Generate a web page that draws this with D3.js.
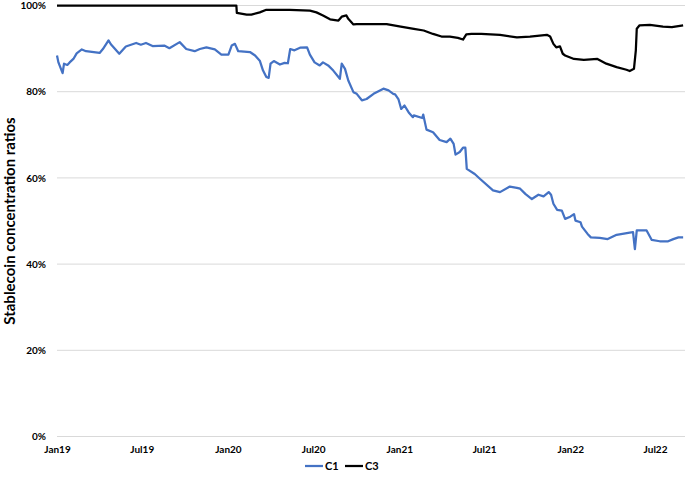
<!DOCTYPE html>
<html>
<head>
<meta charset="utf-8">
<script src="https://cdn.jsdelivr.net/npm/d3@7"></script>
<style>
  html, body { margin: 0; padding: 0; background: #fff; }
  svg { display: block; font-family: Lato, "Open Sans", sans-serif; }
</style>
</head>
<body>
<svg id="chart" width="685" height="480"></svg>
<script>
// ---- data ----
const c1Dates = ["2019-01-01","2019-01-04","2019-01-13","2019-01-16","2019-01-23","2019-01-28","2019-02-05","2019-02-12","2019-02-23","2019-03-04","2019-04-02","2019-04-09","2019-04-21","2019-04-26","2019-05-14","2019-05-28","2019-06-19","2019-06-29","2019-07-10","2019-07-24","2019-08-18","2019-08-29","2019-09-20","2019-10-04","2019-10-22","2019-11-02","2019-11-16","2019-12-04","2019-12-18","2020-01-02","2020-01-09","2020-01-16","2020-01-23","2020-02-17","2020-02-28","2020-03-09","2020-03-16","2020-03-23","2020-03-28","2020-04-01","2020-04-08","2020-04-21","2020-05-01","2020-05-08","2020-05-13","2020-05-22","2020-06-03","2020-06-18","2020-06-24","2020-07-04","2020-07-15","2020-07-22","2020-08-02","2020-08-13","2020-08-27","2020-08-31","2020-09-07","2020-09-14","2020-09-25","2020-10-02","2020-10-13","2020-10-23","2020-11-07","2020-11-28","2020-12-09","2020-12-19","2020-12-23","2020-12-30","2021-01-05","2021-01-12","2021-01-21","2021-01-30","2021-02-01","2021-02-19","2021-02-21","2021-02-28","2021-03-14","2021-03-28","2021-04-12","2021-04-20","2021-04-27","2021-05-01","2021-05-10","2021-05-17","2021-05-22","2021-05-25","2021-06-11","2021-06-22","2021-07-20","2021-08-04","2021-08-25","2021-09-09","2021-09-16","2021-09-27","2021-10-11","2021-10-25","2021-11-05","2021-11-16","2021-11-21","2021-11-26","2021-12-04","2021-12-14","2021-12-21","2022-01-01","2022-01-09","2022-01-12","2022-01-23","2022-01-26","2022-02-07","2022-02-14","2022-03-05","2022-03-22","2022-04-10","2022-05-08","2022-05-15","2022-05-19","2022-05-23","2022-06-13","2022-06-24","2022-07-11","2022-07-29","2022-08-09","2022-08-20","2022-08-30"];
const c1Values = [88.4,86.8,84.3,86.5,86.2,86.8,87.6,88.9,89.8,89.4,89.0,89.9,91.9,91.0,88.8,90.5,91.3,90.9,91.3,90.6,90.7,90.1,91.5,89.9,89.4,89.9,90.3,89.8,88.6,88.6,90.7,91.1,89.4,89.2,88.4,87.2,84.9,83.4,83.2,86.5,87.1,86.3,86.7,86.6,89.9,89.6,90.2,90.3,88.6,86.8,86.1,86.8,86.1,84.9,83.0,86.5,85.3,82.6,79.9,79.5,78.0,78.3,79.5,80.7,80.3,79.5,79.4,78.3,76.0,76.8,75.2,74.1,74.5,73.9,74.7,71.2,70.6,68.8,68.3,69.1,67.9,65.4,66.0,67.0,67.0,62.1,60.9,59.8,57.1,56.7,58.0,57.7,57.5,56.3,55.1,56.1,55.7,56.7,56.1,54.0,52.6,52.4,50.5,51.0,51.6,50.1,49.7,48.7,47.0,46.2,46.1,45.8,46.8,47.3,47.4,43.5,47.8,47.8,45.6,45.3,45.3,45.8,46.2,46.2];

const c3Dates = ["2019-01-01","2020-01-19","2020-01-20","2020-02-10","2020-02-20","2020-03-09","2020-03-23","2020-04-21","2020-05-12","2020-06-24","2020-07-08","2020-07-22","2020-08-06","2020-08-24","2020-08-31","2020-09-10","2020-09-14","2020-09-25","2020-10-02","2020-12-05","2021-01-04","2021-02-01","2021-02-22","2021-03-14","2021-04-01","2021-04-19","2021-05-06","2021-05-17","2021-05-24","2021-06-04","2021-06-25","2021-08-04","2021-09-09","2021-10-07","2021-11-12","2021-11-19","2021-11-26","2021-12-02","2021-12-10","2021-12-16","2021-12-21","2022-01-09","2022-01-30","2022-02-28","2022-03-19","2022-04-10","2022-05-01","2022-05-08","2022-05-17","2022-05-21","2022-05-23","2022-05-29","2022-06-20","2022-07-18","2022-08-06","2022-08-30"];
const c3Values = [100,100,98.3,97.9,97.9,98.4,99.0,99.0,99.0,98.8,98.4,97.7,96.8,96.5,97.4,97.7,96.9,95.6,95.7,95.7,95.1,94.6,94.2,93.4,92.8,92.8,92.5,92.1,93.3,93.4,93.4,93.2,92.6,92.8,93.2,92.8,91.1,90.3,90.5,88.8,88.4,87.6,87.4,87.6,86.5,85.7,85.1,84.8,85.3,89.6,94.6,95.4,95.5,95.1,95.0,95.4];

const seriesNames = ["C1", "C3"];
const seriesColors = ["#4472C4", "#000000"];
const yTicks = [0, 20, 40, 60, 80, 100];
const xTickDates = ["2019-01-01","2019-07-01","2020-01-01","2020-07-01","2021-01-01","2021-07-01","2022-01-01","2022-07-01"];
const xTickLabels = ["Jan19","Jul19","Jan20","Jul20","Jan21","Jul21","Jan22","Jul22"];
const yTitle = "Stablecoin concentration ratios";

// ---- drawing ----
(function () {
const parse = d3.utcParse("%Y-%m-%d");
const svg = d3.select("#chart");
const plotLeft = 57, plotRight = 685, plotTop = 5.5, plotBottom = 436.5;

const x = d3.scaleUtc()
  .domain([parse("2019-01-01"), parse("2022-09-03")])
  .range([plotLeft, plotRight]);
const y = d3.scaleLinear().domain([0, 100]).range([plotBottom, plotTop]);

// gridlines
svg.append("g").selectAll("line").data(yTicks).join("line")
  .attr("x1", plotLeft).attr("x2", plotRight)
  .attr("y1", d => y(d)).attr("y2", d => y(d))
  .attr("stroke", "#d9d9d9").attr("stroke-width", 1);

// y axis labels
const yAxis = d3.axisLeft(y).tickValues(yTicks).tickFormat(d => d + "%").tickSize(0).tickPadding(0);
svg.append("g").attr("transform", "translate(46,0)").call(yAxis)
  .call(g => g.select(".domain").remove())
  .call(g => g.selectAll("text").attr("font-family", "Lato, sans-serif").attr("font-weight", "bold").attr("font-size", 10).attr("fill", "#000"));

// x axis labels
const xAxis = d3.axisBottom(x)
  .tickValues(xTickDates.map(parse))
  .tickFormat((d, i) => xTickLabels[i])
  .tickSize(0).tickPadding(0);
svg.append("g").attr("transform", "translate(0,446)").call(xAxis)
  .call(g => g.select(".domain").remove())
  .call(g => g.selectAll("text").attr("font-family", "Lato, sans-serif").attr("font-weight", "bold").attr("font-size", 10).attr("fill", "#000"));

// lines
const line = d3.line().x(d => x(d[0])).y(d => y(d[1]));
const c1 = c1Dates.map((d, i) => [parse(d), c1Values[i]]);
const c3 = c3Dates.map((d, i) => [parse(d), c3Values[i]]);
[c1, c3].forEach((data, i) => {
  svg.append("path").datum(data)
    .attr("d", line)
    .attr("fill", "none")
    .attr("stroke", seriesColors[i])
    .attr("stroke-width", 2.25)
    .attr("stroke-linejoin", "round");
});

// y title
svg.append("text")
  .attr("transform", "translate(15,221) rotate(-90)")
  .attr("text-anchor", "middle")
  .attr("font-family", "Lato, sans-serif")
  .attr("font-weight", "bold")
  .attr("font-size", 15)
  .attr("fill", "#000")
  .text(yTitle);

// legend
const legendX = [305, 345];
const lg = svg.append("g");
seriesNames.forEach((name, i) => {
  const lx = legendX[i];
  lg.append("line").attr("x1", lx).attr("x2", lx + 18).attr("y1", 466).attr("y2", 466)
    .attr("stroke", seriesColors[i]).attr("stroke-width", 2.25);
  lg.append("text").attr("x", lx + 20).attr("y", 470)
    .attr("font-family", "Lato, sans-serif").attr("font-weight", "bold").attr("font-size", 11)
    .attr("fill", "#000").text(name);
});
})();
</script>
</body>
</html>
